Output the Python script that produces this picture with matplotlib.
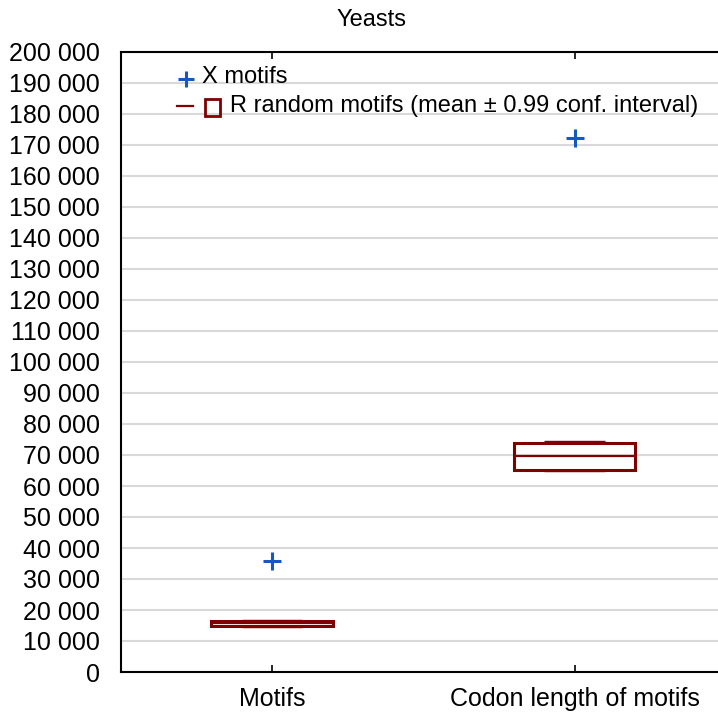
import numpy as np
import matplotlib
matplotlib.use("Agg")
import matplotlib.pyplot as plt
from matplotlib.patches import Rectangle
from matplotlib.ticker import FuncFormatter

plt.rcParams['font.family'] = ['Liberation Sans', 'DejaVu Sans']

categories = ["Motifs", "Codon length of motifs"]
x_motifs = [35800, 172300]
r_mean = [15700, 69700]
r_box_low = [14800, 65300]
r_box_high = [16600, 73800]
r_ci_low = [14600, 64800]
r_ci_high = [16900, 74400]

red = "#800000"
blue = "#1459c0"

W, H = 718, 714
fig = plt.figure(figsize=(W / 100, H / 100), dpi=100)
ax = fig.add_axes([120.7 / W, 1 - 672 / H, (W - 120.7) / W, (672 - 52) / H])

pos = np.arange(1, len(categories) + 1)
for i, p in enumerate(pos):
    ax.add_patch(Rectangle((p - 0.2, r_box_low[i]), 0.4, r_box_high[i] - r_box_low[i],
                           fill=False, edgecolor=red, lw=2.2, zorder=3))
    ax.hlines(r_mean[i], p - 0.2, p + 0.2, color=red, lw=1.6, zorder=3)
    ax.hlines([r_ci_low[i], r_ci_high[i]], p - 0.1, p + 0.1, color=red, lw=1.0, zorder=3)

ax.plot(pos, x_motifs, ls="none", marker="+", ms=13, mew=2.2, color=blue, zorder=4)

ax.set_xlim(0.5, 2.474)
ax.set_ylim(0, 200000)
ax.set_yticks(np.arange(0, 200001, 10000))
ax.yaxis.set_major_formatter(FuncFormatter(lambda v, _: f"{int(v):,}".replace(",", " ")))
ax.set_xticks(pos)
ax.set_xticklabels(categories)
ax.tick_params(axis="y", length=0, labelsize=18, pad=15)
ax.tick_params(axis="x", direction="in", length=5, width=1.2, top=True, labelsize=18, pad=11)
ax.grid(axis="y", color="#d9d9d9", lw=1.5, zorder=0)
ax.set_axisbelow(True)
for s in ["left", "bottom", "top"]:
    ax.spines[s].set_linewidth(1.5)
ax.spines["right"].set_visible(False)

fig.text(372 / W, 1 - 20 / H, "Yeasts", ha="center", va="center", fontsize=17)

# legend
def fx(px):
    return px / W

def fy(py):
    return 1 - py / H

fig.lines.append(plt.Line2D([fx(185.5)], [fy(79)], marker="+", ms=11, mew=2.2, color=blue,
                            ls="none", transform=fig.transFigure))
fig.text(fx(202), fy(77), "X motifs", ha="left", va="center", fontsize=17)
fig.lines.append(plt.Line2D([fx(177), fx(193)], [fy(106), fy(106)], color=red, lw=1.6,
                            transform=fig.transFigure))
fig.patches.append(Rectangle((fx(205), fy(116)), 15 / W, 17 / H, fill=False, edgecolor=red,
                             lw=2, transform=fig.transFigure))
fig.text(fx(230), fy(106), "R random motifs (mean \u00b1 0.99 conf. interval)",
         ha="left", va="center", fontsize=17)

fig.savefig("out.png", dpi=100)
